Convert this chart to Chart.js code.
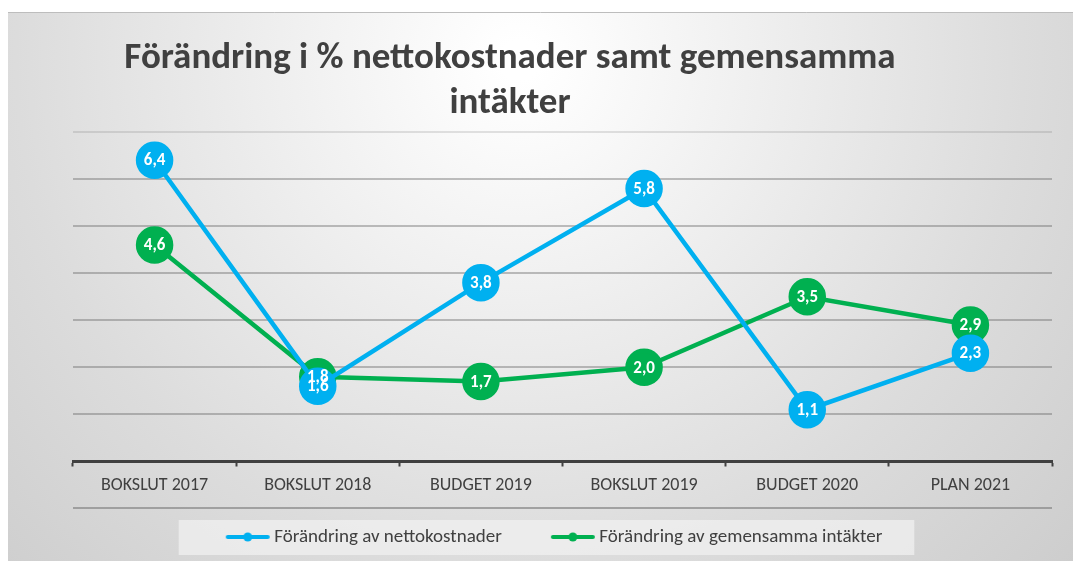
<!DOCTYPE html>
<html>
<head>
<meta charset="utf-8">
<script src="https://cdn.jsdelivr.net/npm/chart.js@4"></script>
<style>
  html, body { margin: 0; padding: 0; background: #fff; }
  #wrap { width: 1073px; height: 561px; position: relative; }
</style>
</head>
<body>
<div id="wrap"><canvas id="chart"></canvas></div>
<script>
// data
const categories = ['BOKSLUT 2017', 'BOKSLUT 2018', 'BUDGET 2019', 'BOKSLUT 2019', 'BUDGET 2020', 'PLAN 2021'];
const nettokostnader = [6.4, 1.6, 3.8, 5.8, 1.1, 2.3];
const gemensammaIntakter = [4.6, 1.8, 1.7, 2.0, 3.5, 2.9];
const titleLines = ['Förändring i % nettokostnader samt gemensamma', 'intäkter'];

const BLUE = '#00b0f0';
const GREEN = '#00b050';
const TEXT = '#404040';
const FONT = "Carlito, 'Liberation Sans Narrow', Lato, sans-serif";

// legend marker: line with a dot. The legend box is 78 wide; the visible
// line sits at its right end so the empty left part acts as item spacing.
function legendMarker(color) {
    const c = document.createElement('canvas');
    c.width = 90; c.height = 10;
    const ctx = c.getContext('2d');
    ctx.strokeStyle = color;
    ctx.lineWidth = 4;
    ctx.lineCap = 'round';
    ctx.beginPath();
    ctx.moveTo(47, 5); ctx.lineTo(87, 5);
    ctx.stroke();
    ctx.fillStyle = color;
    ctx.beginPath();
    ctx.arc(67, 5, 4.5, 0, Math.PI * 2);
    ctx.fill();
    return c;
}

// background, frame, title and legend box
const decor = {
    id: 'decor',
    beforeDraw(chart) {
        const ctx = chart.ctx;
        const w = chart.width, h = chart.height;
        ctx.save();
        const g = ctx.createRadialGradient(520, 60, 20, 520, 60, 900);
        g.addColorStop(0, '#ffffff');
        g.addColorStop(0.55, '#dcdcdc');
        g.addColorStop(1, '#c4c4c4');
        ctx.fillStyle = g;
        ctx.fillRect(8, 12, w - 8, h - 12);
        ctx.strokeStyle = '#bdbdbd';
        ctx.lineWidth = 1;
        ctx.beginPath();
        ctx.moveTo(8, 12.5); ctx.lineTo(w, 12.5);
        ctx.stroke();

        // title
        ctx.fillStyle = TEXT;
        ctx.font = "bold 37px " + FONT;
        ctx.textAlign = 'center';
        ctx.textBaseline = 'middle';
        ctx.fillText(titleLines[0], 510, 59);
        ctx.fillText(titleLines[1], 510, 104);

        // line under the category labels
        const ca = chart.chartArea;
        ctx.strokeStyle = '#8c8c8c';
        ctx.lineWidth = 1.5;
        ctx.beginPath();
        ctx.moveTo(ca.left, 508); ctx.lineTo(ca.right, 508);
        ctx.stroke();

        // legend box
        const lg = chart.legend;
        if (lg && lg.legendHitBoxes && lg.legendHitBoxes.length) {
            const boxes = lg.legendHitBoxes;
            const x0 = boxes[0].left - 8;
            const last = boxes[boxes.length - 1];
            const x1 = last.left + last.width + 32;
            const cy = boxes[0].top + boxes[0].height / 2;
            ctx.fillStyle = 'rgba(240,240,240,0.75)';
            ctx.fillRect(x0, cy - 17, x1 - x0, 35);
        }
        ctx.restore();
    }
};

// white value labels inside the points
const valueLabels = {
    id: 'valueLabels',
    afterDatasetsDraw(chart) {
        const ctx = chart.ctx;
        ctx.save();
        ctx.font = "bold 17px " + FONT;
        ctx.fillStyle = '#ffffff';
        ctx.textAlign = 'center';
        ctx.textBaseline = 'middle';
        chart.data.datasets.forEach((ds, i) => {
            const meta = chart.getDatasetMeta(i);
            meta.data.forEach((pt, j) => {
                ctx.fillText(ds.data[j].toFixed(1).replace('.', ','), pt.x, pt.y + 1);
            });
        });
        ctx.restore();
    }
};

new Chart(document.getElementById('chart'), {
    type: 'line',
    data: {
        labels: categories,
        datasets: [{
            label: 'Förändring av nettokostnader',
            data: nettokostnader,
            borderColor: BLUE,
            backgroundColor: BLUE,
            pointBackgroundColor: BLUE,
            pointBorderColor: BLUE,
            borderWidth: 4.5,
            pointRadius: 16.5,
            pointHoverRadius: 16.5,
            pointStyle: 'circle',
            tension: 0,
            clip: false
        }, {
            label: 'Förändring av gemensamma intäkter',
            data: gemensammaIntakter,
            borderColor: GREEN,
            backgroundColor: GREEN,
            pointBackgroundColor: GREEN,
            pointBorderColor: GREEN,
            borderWidth: 4.5,
            pointRadius: 16.5,
            pointHoverRadius: 16.5,
            tension: 0,
            clip: false
        }]
    },
    options: {
        responsive: true,
        maintainAspectRatio: false,
        animation: false,
        layout: { padding: { left: 11, right: 15, top: 132, bottom: 4.5 } },
        scales: {
            x: {
                offset: true,
                afterFit(scale) { scale.height = 56; },
                grid: {
                    offset: true,
                    drawOnChartArea: false,
                    drawTicks: true,
                    tickLength: 5,
                    tickColor: TEXT,
                    tickWidth: 2
                },
                border: { color: TEXT, width: 3 },
                ticks: {
                    color: TEXT,
                    font: { family: FONT, size: 18 },
                    padding: 8,
                    maxRotation: 0
                }
            },
            y: {
                min: 0,
                max: 7,
                afterFit(scale) { scale.width = 62; },
                ticks: { display: false, stepSize: 1 },
                border: { display: false },
                grid: {
                    drawTicks: false,
                    color: (c) => c.tick && c.tick.value === 7 ? 'rgba(100,100,100,0.18)' : 'rgba(100,100,100,0.4)',
                    lineWidth: 2
                }
            }
        },
        plugins: {
            title: { display: false },
            tooltip: { enabled: false },
            legend: {
                position: 'bottom',
                labels: {
                    color: TEXT,
                    font: { family: FONT, size: 19 },
                    usePointStyle: true,
                    pointStyleWidth: 78,
                    padding: 10,
                    generateLabels(chart) {
                        return chart.data.datasets.map((ds, i) => ({
                            text: ds.label,
                            pointStyle: legendMarker(ds.borderColor),
                            fontColor: TEXT,
                            lineWidth: 0,
                            strokeStyle: 'transparent',
                            fillStyle: ds.borderColor,
                            datasetIndex: i,
                            hidden: false
                        }));
                    }
                }
            }
        }
    },
    plugins: [decor, valueLabels]
});
</script>
</body>
</html>
